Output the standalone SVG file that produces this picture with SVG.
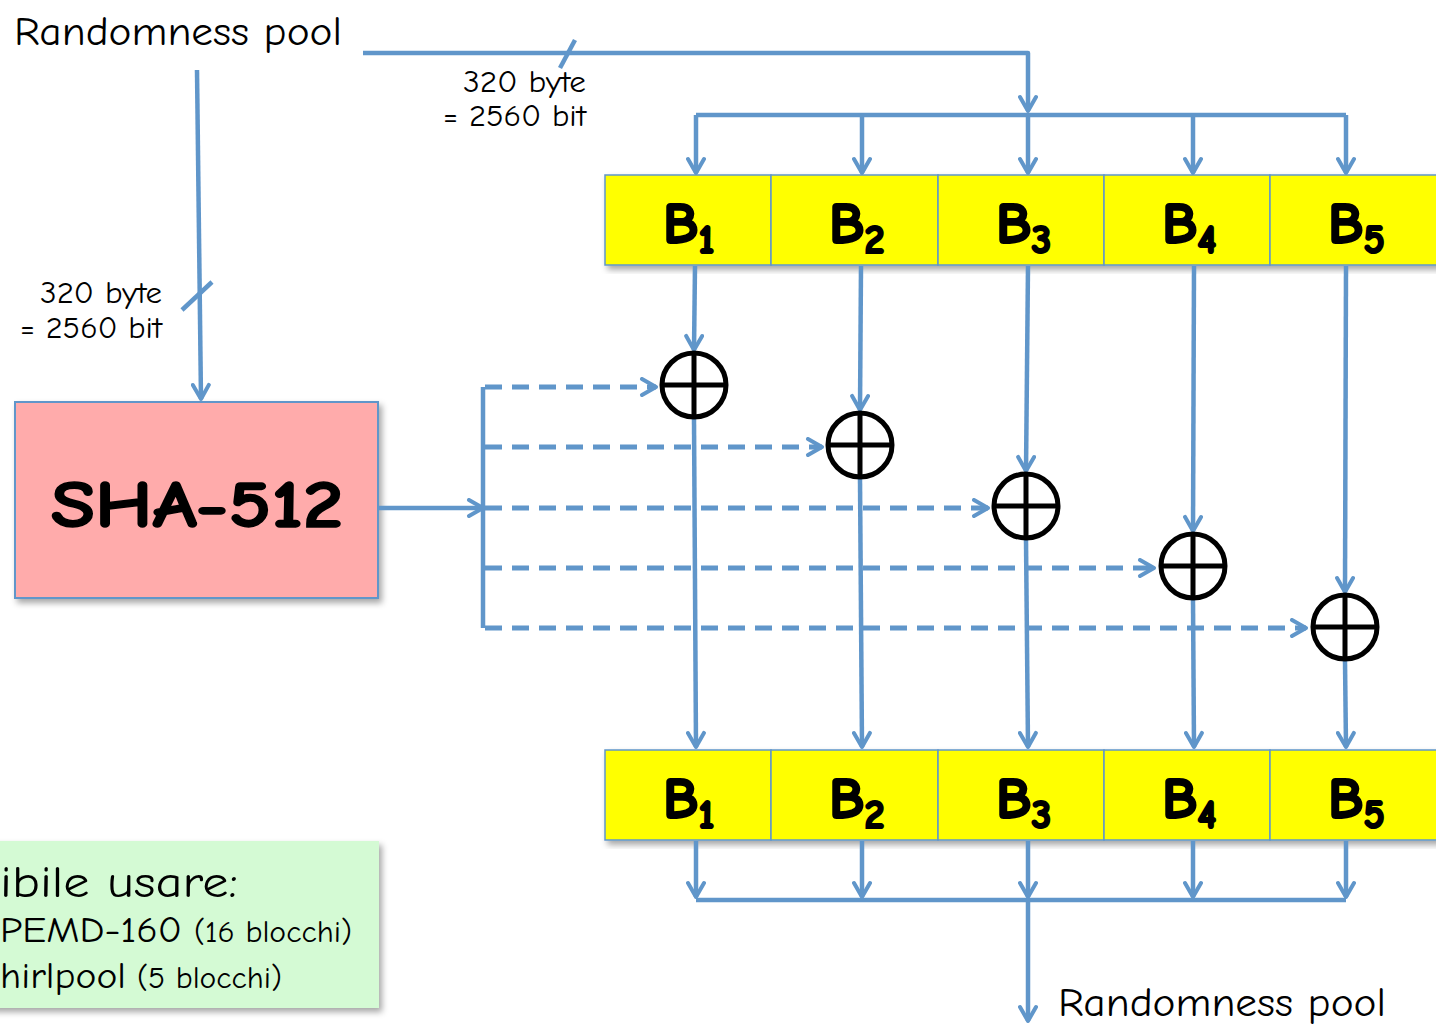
<svg xmlns="http://www.w3.org/2000/svg" width="1436" height="1026" viewBox="0 0 1436 1026">
<style>
.t{font-family:"Comic Neue","Liberation Sans","DejaVu Sans",sans-serif;fill:#000}
.b{font-family:"Comic Neue","Liberation Sans","DejaVu Sans",sans-serif;font-weight:bold;font-size:58px;fill:#000;stroke:#000;stroke-width:2.2}
.ln{fill:none;stroke:#6096CA;stroke-width:4.5;stroke-linejoin:round}
.ds{fill:none;stroke:#6096CA;stroke-width:5;stroke-dasharray:17 10}
.blk{fill:#FFFF00;stroke:#6096CA;stroke-width:1.5}
.x{fill:none;stroke:#000;stroke-width:5}
</style>
<defs>
<marker id="a" markerUnits="userSpaceOnUse" viewBox="0 0 20 20" markerWidth="20" markerHeight="20" refX="17" refY="10" orient="auto">
<path d="M3,2 L17,10 L3,18" fill="none" stroke="#6096CA" stroke-width="4" stroke-linecap="round" stroke-linejoin="round"/>
</marker>
<filter id="sh" x="-5%" y="-5%" width="112%" height="115%">
<feDropShadow dx="3" dy="4" stdDeviation="3" flood-color="#000" flood-opacity="0.35"/>
</filter>
</defs>

<g id="title-top"><text class="t" x="14" y="45" font-size="40" textLength="328" lengthAdjust="spacingAndGlyphs">Randomness pool</text></g>

<g id="label-top">
<text class="t" x="463" y="92" font-size="30" textLength="123" lengthAdjust="spacingAndGlyphs">320 byte</text>
<text class="t" x="443" y="126" font-size="30" textLength="143" lengthAdjust="spacingAndGlyphs">= 2560 bit</text>
</g>
<g id="label-left">
<text class="t" x="40" y="303" font-size="30" textLength="122" lengthAdjust="spacingAndGlyphs">320 byte</text>
<text class="t" x="20" y="338" font-size="30" textLength="142" lengthAdjust="spacingAndGlyphs">= 2560 bit</text>
</g>

<g id="sha512">
<rect x="15" y="402" width="363" height="196" fill="#FFABAB" stroke="#6096CA" stroke-width="2" filter="url(#sh)"/>
<text class="t" x="197" y="527" font-size="66" font-weight="bold" text-anchor="middle" textLength="292" lengthAdjust="spacingAndGlyphs" stroke="#000" stroke-width="1.5">SHA-512</text>
</g>

<g id="blocks-top" filter="url(#sh)">
<rect class="blk" x="605" y="175" width="166" height="90"/>
<rect class="blk" x="771" y="175" width="167" height="90"/>
<rect class="blk" x="938" y="175" width="166" height="90"/>
<rect class="blk" x="1104" y="175" width="166" height="90"/>
<rect class="blk" x="1270" y="175" width="170" height="90"/>
</g>
<g id="labels-top">
<text class="b" x="663" y="243">B<tspan font-size="40" dy="10">1</tspan></text>
<text class="b" x="829" y="243">B<tspan font-size="40" dy="10">2</tspan></text>
<text class="b" x="996" y="243">B<tspan font-size="40" dy="10">3</tspan></text>
<text class="b" x="1162" y="243">B<tspan font-size="40" dy="10">4</tspan></text>
<text class="b" x="1328" y="243">B<tspan font-size="40" dy="10">5</tspan></text>
</g>

<g id="blocks-bottom" filter="url(#sh)">
<rect class="blk" x="605" y="750" width="166" height="90"/>
<rect class="blk" x="771" y="750" width="167" height="90"/>
<rect class="blk" x="938" y="750" width="166" height="90"/>
<rect class="blk" x="1104" y="750" width="166" height="90"/>
<rect class="blk" x="1270" y="750" width="170" height="90"/>
</g>
<g id="labels-bottom">
<text class="b" x="663" y="818">B<tspan font-size="40" dy="10">1</tspan></text>
<text class="b" x="829" y="818">B<tspan font-size="40" dy="10">2</tspan></text>
<text class="b" x="996" y="818">B<tspan font-size="40" dy="10">3</tspan></text>
<text class="b" x="1162" y="818">B<tspan font-size="40" dy="10">4</tspan></text>
<text class="b" x="1328" y="818">B<tspan font-size="40" dy="10">5</tspan></text>
</g>

<g id="connectors">
<path class="ln" d="M363,53 L1028,53 L1028,111" marker-end="url(#a)"/>
<line class="ln" x1="560" y1="68" x2="575" y2="40"/>
<path class="ln" d="M696,115 L1346,115"/>
<line class="ln" x1="696" y1="115" x2="696" y2="173" marker-end="url(#a)"/>
<line class="ln" x1="862" y1="115" x2="862" y2="173" marker-end="url(#a)"/>
<line class="ln" x1="1028" y1="115" x2="1028" y2="173" marker-end="url(#a)"/>
<line class="ln" x1="1193" y1="115" x2="1193" y2="173" marker-end="url(#a)"/>
<line class="ln" x1="1346" y1="115" x2="1346" y2="173" marker-end="url(#a)"/>

<line class="ln" x1="197" y1="70" x2="201" y2="399" marker-end="url(#a)"/>
<line class="ln" x1="182" y1="310" x2="212" y2="282"/>

<line class="ln" x1="379" y1="508" x2="483" y2="508" marker-end="url(#a)"/>
<line class="ln" x1="483" y1="387" x2="483" y2="628"/>
<line class="ds" x1="485" y1="387" x2="656" y2="387" marker-end="url(#a)"/>
<line class="ds" x1="485" y1="447" x2="822" y2="447" marker-end="url(#a)"/>
<line class="ds" x1="485" y1="508" x2="988" y2="508" marker-end="url(#a)"/>
<line class="ds" x1="485" y1="568" x2="1154" y2="568" marker-end="url(#a)"/>
<line class="ds" x1="485" y1="628" x2="1306" y2="628" marker-end="url(#a)"/>

<line class="ln" x1="695" y1="266" x2="694" y2="350" marker-end="url(#a)"/>
<line class="ln" x1="861" y1="266" x2="860" y2="410" marker-end="url(#a)"/>
<line class="ln" x1="1028" y1="266" x2="1026" y2="471" marker-end="url(#a)"/>
<line class="ln" x1="1194" y1="266" x2="1193" y2="531" marker-end="url(#a)"/>
<line class="ln" x1="1346" y1="266" x2="1345" y2="592" marker-end="url(#a)"/>

<line class="ln" x1="694" y1="419" x2="696" y2="747" marker-end="url(#a)"/>
<line class="ln" x1="860" y1="479" x2="862" y2="747" marker-end="url(#a)"/>
<line class="ln" x1="1026" y1="540" x2="1028" y2="747" marker-end="url(#a)"/>
<line class="ln" x1="1193" y1="600" x2="1194" y2="747" marker-end="url(#a)"/>
<line class="ln" x1="1345" y1="661" x2="1346" y2="747" marker-end="url(#a)"/>

<line class="ln" x1="696" y1="841" x2="696" y2="897" marker-end="url(#a)"/>
<line class="ln" x1="862" y1="841" x2="862" y2="897" marker-end="url(#a)"/>
<line class="ln" x1="1028" y1="841" x2="1028" y2="897" marker-end="url(#a)"/>
<line class="ln" x1="1193" y1="841" x2="1193" y2="897" marker-end="url(#a)"/>
<line class="ln" x1="1346" y1="841" x2="1346" y2="897" marker-end="url(#a)"/>
<path class="ln" d="M696,900 L1346,900"/>
<line class="ln" x1="1028" y1="900" x2="1028" y2="1021" marker-end="url(#a)"/>
</g>

<g id="xor1"><circle class="x" cx="694" cy="385" r="32"/><path class="x" d="M662,385 H726 M694,353 V417"/></g>
<g id="xor2"><circle class="x" cx="860" cy="445" r="32"/><path class="x" d="M828,445 H892 M860,413 V477"/></g>
<g id="xor3"><circle class="x" cx="1026" cy="506" r="32"/><path class="x" d="M994,506 H1058 M1026,474 V538"/></g>
<g id="xor4"><circle class="x" cx="1193" cy="566" r="32"/><path class="x" d="M1161,566 H1225 M1193,534 V598"/></g>
<g id="xor5"><circle class="x" cx="1345" cy="627" r="32"/><path class="x" d="M1313,627 H1377 M1345,595 V659"/></g>

<g id="title-bottom"><text class="t" x="1058" y="1016" font-size="40" textLength="328" lengthAdjust="spacingAndGlyphs">Randomness pool</text></g>

<g id="note">
<rect x="-10" y="841" width="389" height="167" fill="#D4FAD4" filter="url(#sh)"/>
<text class="t" x="0" y="897" font-size="44" textLength="238" lengthAdjust="spacingAndGlyphs">ibile usare:</text>
<text class="t" x="0" y="942" font-size="36"><tspan textLength="182" lengthAdjust="spacingAndGlyphs">PEMD-160</tspan><tspan font-size="30" x="194" textLength="158" lengthAdjust="spacingAndGlyphs">(16 blocchi)</tspan></text>
<text class="t" x="0" y="988" font-size="36"><tspan textLength="126" lengthAdjust="spacingAndGlyphs">hirlpool</tspan><tspan font-size="30" x="137" textLength="145" lengthAdjust="spacingAndGlyphs">(5 blocchi)</tspan></text>
</g>
</svg>
